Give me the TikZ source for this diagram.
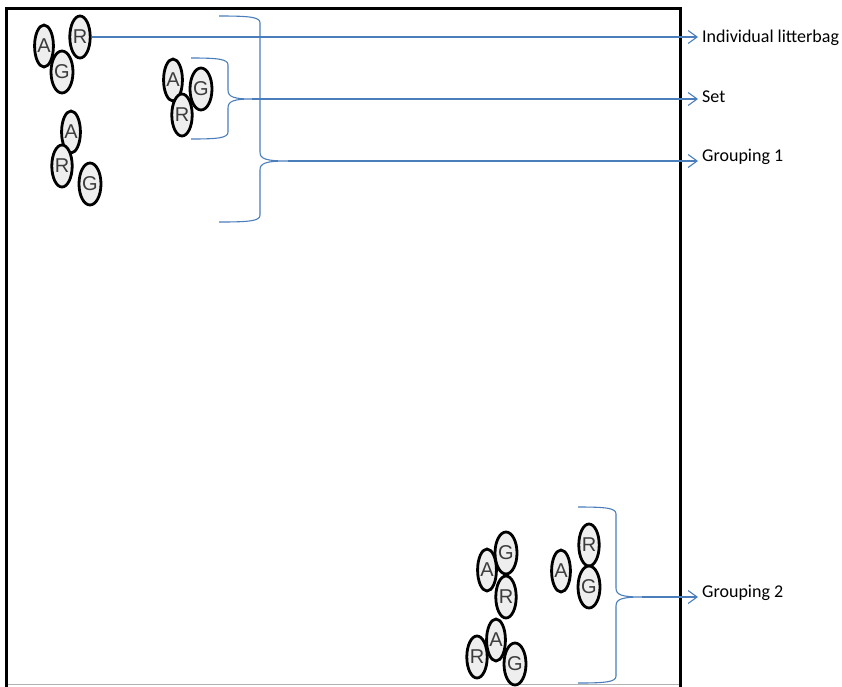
\documentclass[tikz,border=0pt]{standalone}
\usepackage{fontspec}
\setmainfont{Carlito}
\newfontfamily\bagfont{Liberation Sans}
\usetikzlibrary{shapes.geometric,arrows.meta}
\definecolor{linkblue}{HTML}{4A7EBB}
\definecolor{bagfill}{HTML}{EEEEEE}
\definecolor{bagtext}{HTML}{3C3C3C}
% right curly brace: left end, vertical x, top, middle, bottom, tip
\newcommand\groupbrace[6]{%
  \draw[brace] (#1,#3) .. controls (#2-10,#3) and (#2,#3+1) .. (#2,#3+7)
    -- (#2,#4-9) .. controls (#2,#4-2) and (#2+6,#4) .. (#6,#4)
    .. controls (#2+6,#4) and (#2,#4+2) .. (#2,#4+9)
    -- (#2,#5-7) .. controls (#2,#5-1) and (#2-10,#5) .. (#1,#5);}
\begin{document}
\begin{tikzpicture}[x=1pt,y=-1pt,
  bag/.style={ellipse,draw=black,line width=2.8pt,fill=bagfill,
    minimum width=18pt,minimum height=42pt,inner sep=0pt,
    text=bagtext,font=\bagfont\fontsize{20}{20}\selectfont},
  brace/.style={draw=linkblue,line width=1.1pt},
  link/.style={draw=linkblue,line width=1.1pt,-{Straight Barb[length=9pt,width=13pt]}},
  tag/.style={anchor=base west,inner sep=0pt,font=\fontsize{18}{18}\selectfont}]
\useasboundingbox (0,0) rectangle (842,686);

% plot frame: thick left, top and right edges, thin grey base line
\draw[black!30,line width=1pt] (7,684.5) -- (680,684.5);
\draw[black,line width=3pt] (6.5,690) -- (6.5,8) -- (680.5,8) -- (680.5,690);

\groupbrace{219}{260}{16}{161}{222}{288}
\groupbrace{191}{228}{58}{99}{139}{252}
\groupbrace{578}{616}{507}{597}{683}{642}

\coordinate (g1tip) at (288,161);
\coordinate (settip) at (252,99);
\coordinate (g2tip) at (642,597);

% litterbags, grouping 1
\node[bag] (a1) at (44,46) {A};
\node[bag] (r1) at (80,37) {R};
\node[bag] (g1) at (62,72) {G};
\node[bag] (a2) at (71,132) {A};
\node[bag] (r2) at (62,166) {R};
\node[bag] (g2) at (90,184) {G};
\node[bag] (a3) at (173,80) {A};
\node[bag] (g3) at (201,89) {G};
\node[bag] (r3) at (182,115) {R};

% litterbags, grouping 2
\node[bag] (g4) at (506,553) {G};
\node[bag] (a4) at (487,570) {A};
\node[bag] (r4) at (506,597) {R};
\node[bag] (r5) at (477,657) {R};
\node[bag] (a5) at (496,640) {A};
\node[bag] (g5) at (515,664) {G};
\node[bag] (a6) at (561,571) {A};
\node[bag] (r6) at (589,545) {R};
\node[bag] (g6) at (589,587) {G};

% labels and their arrows
\coordinate (e1) at (698,37);
\coordinate (e2) at (698,99);
\coordinate (e3) at (698,161);
\coordinate (e4) at (698,597);
\draw[link] (r1.east) -- (e1);
\draw[link] (settip) -- (e2);
\draw[link] (g1tip) -- (e3);
\draw[link] (g2tip) -- (e4);
\node[tag] (t1) at (702,42) {Individual litterbag};
\node[tag] (t2) at (702,102) {Set};
\node[tag] (t3) at (702,161) {Grouping 1};
\node[tag] (t4) at (702,597) {Grouping 2};
\end{tikzpicture}
\end{document}
